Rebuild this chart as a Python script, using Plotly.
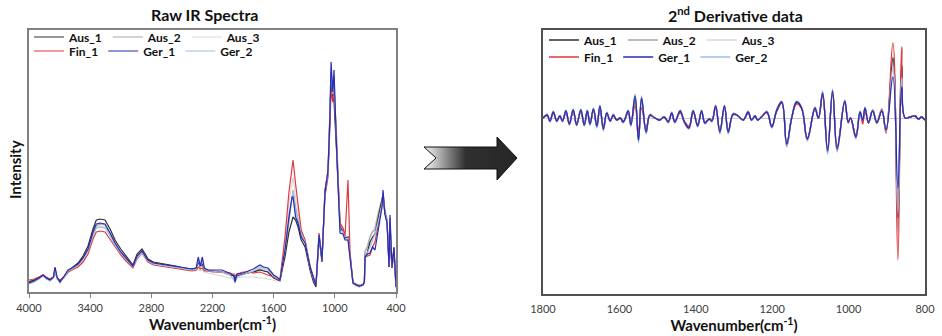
import plotly.graph_objects as go

# ---------------- Raw IR spectra (intensity, arbitrary units) ----------------
raw_wn = [4000, 3950, 3900, 3863, 3830, 3794, 3760, 3745, 3725, 3696,
          3660, 3617, 3580, 3519, 3470, 3421, 3372, 3340, 3303, 3254,
          3200, 3156, 3100, 3058, 3020, 2980, 2940, 2892, 2860, 2833,
          2780, 2720, 2666, 2560, 2480, 2401, 2360, 2340, 2320, 2300,
          2280, 2244, 2200, 2150, 2107, 2060, 2028, 1990, 1979, 1960,
          1901, 1850, 1800, 1734, 1700, 1656, 1600, 1567, 1538, 1510,
          1489, 1450, 1420, 1410, 1385, 1361, 1330, 1292, 1243, 1210,
          1185, 1155, 1126, 1097, 1067, 1050, 1037, 1020, 1008, 985,
          960, 949, 920, 900, 871, 851, 822, 790, 760, 724,
          710, 704, 680, 655, 630, 606, 570, 537, 527, 510,
          488, 468, 459, 448, 439, 420, 410, 400]

raw_aus_1 = [10, 12, 15, 17, 14, 12, 15, 24, 14, 11,
             15, 21, 24, 29, 36, 46, 63, 72, 73, 72,
             62, 52, 43, 37, 32, 27, 38, 43, 38, 33,
             30, 29, 28, 26, 24, 23, 24, 30, 25, 28,
             22, 21, 21, 20, 20, 18, 17, 16, 14, 16,
             18, 19, 20, 22, 21, 20, 14, 12, 11, 25,
             35, 60, 72, 75, 72, 65, 52, 45, 22, 10,
             5, 55, 30, 102, 120, 165, 212, 195, 190, 145,
             92, 65, 60, 54, 55, 36, 9, 7, 6, 7,
             10, 33, 40, 50, 55, 58, 75, 90, 98, 80,
             70, 25, 74, 38, 24, 44, 19, 5]

raw_aus_2 = [10, 12, 14, 16, 14, 12, 14, 22, 14, 11,
             14, 20, 23, 27, 33, 42, 58, 66, 68, 67,
             58, 49, 40, 35, 30, 26, 35, 41, 36, 32,
             29, 28, 27, 25, 24, 23, 24, 30, 25, 30,
             23, 22, 21, 21, 20, 19, 18, 17, 13, 17,
             18, 19, 20, 23, 22, 20, 15, 13, 12, 28,
             40, 70, 98, 102, 85, 72, 56, 50, 24, 12,
             6, 56, 31, 98, 120, 168, 215, 198, 208, 148,
             95, 68, 62, 54, 55, 37, 10, 8, 7, 8,
             11, 40, 45, 55, 60, 62, 80, 92, 96, 82,
             72, 28, 70, 40, 26, 42, 20, 6]

raw_aus_3 = [11, 12, 14, 16, 14, 12, 14, 20, 13, 11,
             14, 19, 22, 26, 32, 40, 56, 64, 66, 65,
             56, 47, 39, 34, 29, 25, 34, 39, 35, 31,
             28, 27, 26, 24, 22, 21, 21, 23, 21, 22,
             20, 19, 18, 17, 16, 15, 14, 14, 13, 14,
             15, 15, 15, 14, 14, 13, 12, 11, 12, 32,
             48, 90, 112, 115, 95, 80, 60, 52, 26, 14,
             8, 57, 33, 96, 118, 165, 210, 195, 205, 150,
             96, 70, 64, 56, 56, 38, 10, 8, 7, 8,
             11, 42, 46, 56, 62, 66, 82, 94, 97, 84,
             74, 30, 70, 40, 26, 42, 20, 6]

raw_fin_1 = [12, 13, 15, 17, 15, 13, 15, 22, 14, 12,
             15, 20, 22, 25, 30, 38, 53, 60, 61, 60,
             52, 45, 37, 32, 28, 24, 33, 39, 34, 30,
             27, 26, 25, 23, 22, 21, 22, 25, 23, 24,
             21, 21, 20, 20, 20, 19, 18, 18, 16, 18,
             20, 20, 19, 20, 19, 17, 15, 13, 13, 35,
             55, 100, 128, 132, 108, 85, 62, 52, 26, 15,
             8, 59, 34, 95, 115, 160, 200, 190, 205, 160,
             100, 69, 64, 56, 112, 40, 9, 7, 6, 7,
             10, 37, 36, 37, 45, 50, 70, 90, 93, 80,
             70, 28, 68, 38, 24, 40, 18, 5]

raw_ger_1 = [9, 11, 14, 17, 14, 12, 15, 25, 15, 10,
             15, 22, 24, 28, 34, 43, 60, 68, 69, 68,
             58, 49, 40, 35, 30, 26, 36, 41, 36, 32,
             29, 28, 27, 25, 24, 23, 24, 35, 26, 35,
             24, 22, 22, 22, 22, 20, 19, 16, 10, 18,
             19, 21, 23, 27, 25, 24, 17, 15, 12, 30,
             42, 75, 95, 95, 75, 69, 55, 49, 25, 14,
             7, 57, 32, 99, 122, 170, 230, 200, 222, 150,
             90, 59, 58, 52, 52, 35, 9, 7, 6, 7,
             10, 35, 38, 39, 45, 42, 65, 85, 102, 78,
             69, 25, 77, 40, 25, 45, 20, 5]

raw_ger_2 = [8, 10, 13, 16, 13, 11, 14, 22, 13, 9,
             14, 21, 23, 27, 33, 41, 57, 64, 65, 64,
             55, 47, 39, 34, 29, 25, 34, 39, 35, 31,
             28, 27, 26, 24, 23, 22, 23, 33, 25, 33,
             23, 21, 21, 20, 20, 18, 17, 12, 9, 15,
             17, 19, 21, 25, 24, 22, 16, 14, 12, 30,
             42, 78, 98, 100, 80, 72, 58, 50, 25, 13,
             7, 56, 32, 98, 121, 168, 222, 198, 215, 152,
             92, 62, 60, 53, 54, 36, 8, 6, 5, 7,
             10, 36, 39, 45, 52, 58, 72, 88, 100, 80,
             70, 26, 74, 39, 25, 43, 19, 4]

# ---------------- 2nd derivative spectra (fingerprint region) ----------------
der_wn = [1800, 1789, 1782, 1773, 1764, 1756, 1749, 1740, 1731, 1721,
          1712, 1701, 1692, 1684, 1677, 1668, 1659, 1651, 1642, 1633,
          1624, 1616, 1607, 1598, 1590, 1577, 1570, 1559, 1550, 1542,
          1530, 1520, 1507, 1494, 1483, 1472, 1463, 1455, 1441, 1430,
          1418, 1407, 1395, 1385, 1376, 1365, 1358, 1348, 1337, 1325,
          1315, 1302, 1289, 1276, 1263, 1254, 1245, 1238, 1228, 1214,
          1201, 1188, 1175, 1162, 1149, 1136, 1123, 1108, 1088, 1079,
          1068, 1055, 1042, 1030, 1010, 1001, 995, 981, 970, 963,
          957, 948, 937, 926, 913, 902, 884, 871, 861, 852,
          839, 826, 817, 809, 800]

der_aus_1 = [0, 3, -3, 5, -3, 2, -3, 6, -6, 7,
             -6, 7, -7, 7, -6, 8, -8, 11, -10, 5,
             -3, 3, -2, 0, -4, 6, -6, 19, -20, 18,
             -13, 3, 0, -2, 1, -4, 5, -4, 6, -4,
             -9, 6, -7, 6, -5, -1, -3, 11, -13, 11,
             -13, 4, 2, -2, 5, -2, 2, -2, 1, 6,
             -8, 7, 15, -25, 0, 15, 10, -20, 9, 0,
             23, -31, 25, -29, 16, -4, 0, -18, 6, -3,
             9, -5, 7, -5, 7, -12, 60, -100, 52, 0,
             1, 2, -1, 1, -2]

der_aus_2 = [0, 3, -4, 6, -3, 2, -3, 7, -7, 8,
             -7, 8, -8, 8, -7, 9, -9, 12, -12, 5,
             -3, 3, -2, 0, -4, 7, -8, 21, -23, 19,
             -15, 3, 0, -2, 1, -4, 5, -4, 7, -4,
             -10, 7, -8, 7, -5, -1, -3, 12, -15, 12,
             -15, 4, 2, -2, 6, -2, 2, -2, 1, 6,
             -9, 8, 16, -28, 0, 16, 10, -22, 10, 0,
             25, -35, 27, -33, 17, -4, 0, -20, 6, -3,
             10, -5, 8, -5, 8, -13, 58, -110, 50, 0,
             1, 2, -1, 1, -2]

der_aus_3 = [0, 3, -3, 6, -3, 2, -3, 7, -6, 8,
             -7, 8, -7, 7, -6, 9, -9, 11, -11, 5,
             -3, 3, -2, 0, -4, 7, -7, 20, -21, 19,
             -14, 3, 0, -2, 1, -4, 5, -4, 7, -4,
             -10, 7, -8, 7, -5, -1, -3, 12, -14, 12,
             -14, 4, 2, -2, 6, -2, 2, -2, 1, 6,
             -9, 8, 16, -27, 0, 16, 10, -21, 10, 0,
             24, -33, 26, -31, 17, -4, 0, -19, 6, -3,
             10, -5, 8, -5, 8, -13, 62, -115, 55, 0,
             1, 2, -1, 1, -2]

der_fin_1 = [0, 2, -2, 5, -2, 2, -2, 5, -4, 6,
             -5, 6, -5, 6, -5, 7, -6, 10, -8, 4,
             -2, 2, -2, 0, -3, 5, -5, 12, -13, 10,
             -10, 2, 0, -2, 1, -3, 4, -3, 5, -3,
             -8, 6, -6, 6, -4, -1, -2, 10, -12, 10,
             -12, 3, 2, -2, 5, -2, 2, -2, 1, 5,
             -8, 7, 15, -27, 0, 14, 9, -20, 9, 0,
             22, -30, 24, -28, 15, -5, 0, -17, 6, -6,
             8, -4, 8, -4, 9, -15, 75, -142, 71, 0,
             1, 2, -1, 1, -2]

der_ger_1 = [0, 3, -3, 6, -3, 2, -3, 7, -6, 8,
             -7, 8, -7, 7, -6, 9, -8, 12, -11, 5,
             -3, 3, -2, 0, -4, 7, -7, 22, -22, 20,
             -14, 3, 0, -2, 1, -4, 5, -4, 7, -4,
             -10, 7, -8, 7, -5, -1, -3, 12, -14, 12,
             -14, 4, 2, -2, 6, -2, 2, -2, 1, 6,
             -9, 8, 16, -26, 0, 16, 10, -21, 10, 0,
             25, -33, 27, -31, 17, -4, 0, -19, 6, -2,
             10, -4, 7, -4, 7, -12, 41, -70, 31, 0,
             1, 2, -1, 1, -2]

der_ger_2 = [0, 4, -4, 7, -4, 2, -4, 8, -7, 9,
             -8, 9, -8, 8, -7, 10, -10, 13, -13, 6,
             -4, 4, -2, 0, -5, 8, -8, 24, -25, 22,
             -16, 4, 0, -2, 1, -5, 6, -5, 8, -5,
             -11, 8, -9, 8, -6, -1, -4, 13, -16, 13,
             -16, 5, 2, -2, 7, -2, 2, -2, 1, 7,
             -10, 9, 17, -29, 0, 17, 11, -23, 11, 0,
             27, -36, 29, -34, 18, -4, 0, -21, 7, -2,
             11, -4, 8, -4, 8, -13, 50, -95, 40, 0,
             1, 2, -1, 1, -2]

raw_ticks = [4000, 3400, 2800, 2200, 1600, 1000, 400]
der_ticks = [1800, 1600, 1400, 1200, 1000, 800]

# drawing order (back to front) with legend rank and row
series = [
    # name,   color,     raw,       deriv,     rank, row
    ("Aus_3", "#d9d9d9", raw_aus_3, der_aus_3, 3, 1),
    ("Aus_2", "#a6a6a6", raw_aus_2, der_aus_2, 2, 1),
    ("Aus_1", "#303030", raw_aus_1, der_aus_1, 1, 1),
    ("Fin_1", "#e0393e", raw_fin_1, der_fin_1, 4, 2),
    ("Ger_2", "#9dc0e4", raw_ger_2, der_ger_2, 6, 2),
    ("Ger_1", "#2a2ab4", raw_ger_1, der_ger_1, 5, 2),
]

FONT = "Lato"
fig = go.Figure()

for name, color, raw, der, rank, row in series:
    fig.add_trace(go.Scatter(
        x=raw_wn, y=raw, name=name, mode="lines",
        line=dict(color=color, width=1.2),
        xaxis="x", yaxis="y",
        legend="legend" if row == 1 else "legend2",
        legendrank=rank, hoverinfo="skip"))
for name, color, raw, der, rank, row in series:
    fig.add_trace(go.Scatter(
        x=der_wn, y=der, name=name, mode="lines",
        line=dict(color=color, width=1.3, shape="spline", smoothing=1.2),
        xaxis="x2", yaxis="y2",
        legend="legend3" if row == 1 else "legend4",
        legendrank=rank, hoverinfo="skip"))

# processing arrow between the panels (gradient filled)
arrow_x = [424, 497, 497, 517, 497, 497, 424, 436, 424]
arrow_y = [147, 147, 137, 158, 180, 169, 169, 158, 147]
fig.add_trace(go.Scatter(
    x=arrow_x, y=arrow_y, mode="lines", fill="toself",
    line=dict(color="#111111", width=1),
    fillgradient=dict(type="horizontal",
                      colorscale=[[0, "#f2f2f2"], [0.12, "#c4c4c4"],
                                  [0.28, "#7a7a7a"], [0.45, "#303030"],
                                  [1, "#262626"]]),
    xaxis="x3", yaxis="y3", showlegend=False, hoverinfo="skip"))

W, H = 942, 336
ML, MR, MT, MB = 29, 17, 30, 42
PW, PH = W - ML - MR, H - MT - MB


def px_x(p):
    return (p - ML) / PW


def px_y(p):
    return (H - MB - p) / PH


axis_font = dict(family=FONT, size=11, color="#404040")
title_font = dict(family=FONT, size=15, color="#111111", weight="bold")
legend_common = dict(orientation="h", bgcolor="rgba(0,0,0,0)",
                     font=dict(family=FONT, size=12, color="#111111", weight="bold"),
                     xanchor="left", yanchor="middle", itemwidth=30,
                     tracegroupgap=0)

fig.update_layout(
    width=W, height=H,
    margin=dict(l=ML, r=MR, t=MT, b=MB, pad=0, autoexpand=False),
    paper_bgcolor="white", plot_bgcolor="white",
    font=dict(family=FONT),
    xaxis=dict(domain=[0, px_x(396)], range=[4000, 400], automargin=False,
               tickvals=raw_ticks, ticks="outside", ticklen=4,
               tickcolor="#808080", tickfont=axis_font, ticklabelstandoff=1,
               showline=True, mirror=True, linecolor="#808080", linewidth=1.5,
               showgrid=False, zeroline=False,
               title=dict(text="Wavenumber(cm<sup>-1</sup>)", font=title_font,
                          standoff=7)),
    yaxis=dict(domain=[px_y(292), 1], range=[0, 262], automargin=False,
               showticklabels=False, ticks="",
               showline=True, mirror=True, linecolor="#808080", linewidth=1.5,
               showgrid=False, zeroline=False),
    xaxis2=dict(domain=[px_x(543), 1], range=[1800, 800], automargin=False,
                tickvals=der_ticks, ticks="", tickfont=axis_font,
                ticklabelstandoff=4,
                showline=True, mirror=True, linecolor="#505050", linewidth=1.5,
                showgrid=False, zeroline=False, anchor="y2",
                title=dict(text="Wavenumber(cm<sup>-1</sup>)", font=title_font,
                           standoff=7)),
    yaxis2=dict(domain=[0, 1], range=[-176, 88], anchor="x2", automargin=False,
                showticklabels=False, ticks="",
                showline=True, mirror=True, linecolor="#505050", linewidth=1.5,
                showgrid=False, zeroline=True, zerolinecolor="#c9cbd6",
                zerolinewidth=1),
    xaxis3=dict(domain=[px_x(420), px_x(522)], range=[420, 522],
                visible=False, anchor="y3"),
    yaxis3=dict(domain=[px_y(186), px_y(131)], range=[186, 131],
                visible=False, anchor="x3"),
    legend=dict(x=px_x(29), y=px_y(37), **legend_common),
    legend2=dict(x=px_x(29), y=px_y(51), **legend_common),
    legend3=dict(x=px_x(544), y=px_y(40), **legend_common),
    legend4=dict(x=px_x(544), y=px_y(57), **legend_common),
    annotations=[
        dict(text="Raw IR Spectra", x=px_x(204), y=px_y(15),
             xref="paper", yref="paper", showarrow=False,
             xanchor="center", yanchor="middle",
             font=dict(family=FONT, size=16, color="#111111", weight="bold")),
        dict(text="2<sup>nd</sup> Derivative data", x=px_x(735), y=px_y(15),
             xref="paper", yref="paper", showarrow=False,
             xanchor="center", yanchor="middle",
             font=dict(family=FONT, size=16, color="#111111", weight="bold")),
        dict(text="Intensity", x=px_x(15), y=px_y(170),
             xref="paper", yref="paper", showarrow=False, textangle=-90,
             xanchor="center", yanchor="middle", font=title_font),
    ],
)

fig.write_html("out.html")
